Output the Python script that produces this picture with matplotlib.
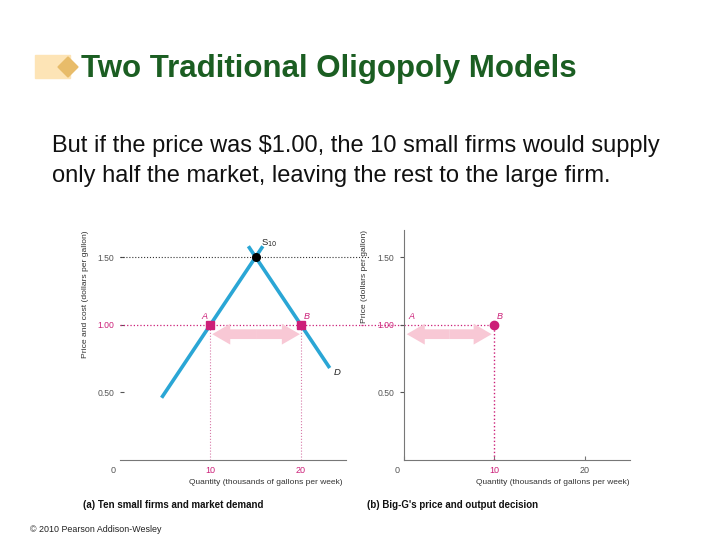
"""
Two Traditional Oligopoly Models - 价格领导模型示意图
"""
import matplotlib
matplotlib.use('Agg')
import matplotlib.pyplot as plt
from matplotlib.patches import Rectangle, Polygon, FancyArrowPatch
from matplotlib.transforms import ScaledTranslation

plt.rcParams['font.family'] = ['Liberation Sans', 'DejaVu Sans']

# 数据
supply_q = [4.6, 15.8]
supply_p = [0.46, 1.58]
demand_q = [14.2, 23.2]
demand_p = [1.58, 0.68]
equil_q, equil_p = 15, 1.50
price = 1.00
small_q = 10        # 10 家小企业供给量 (A)
market_q = 20       # 市场需求量 (B)
bigg_q = 10         # Big-G 产量
arrow_p = 0.93
y_ticks = [0.5, 1.0, 1.5]
y_labels = ['0.50', '1.00', '1.50']
x_ticks = [0, 10, 20]
x_labels = ['0', '10', '20']

CYAN = '#2aa6d5'
MAGENTA = '#cc1f78'
PINK = '#f8c8d5'
GRAY = '#555555'
AXIS = '#777777'

fig = plt.figure(figsize=(7.2, 5.4), dpi=100)
W, H = 720, 540


def fx(px):
    return px / W


def fy(py):
    return 1 - py / H


# 标题装饰
fig.patches.append(Rectangle((fx(35), fy(78)), fx(35), (78 - 55) / H,
                             transform=fig.transFigure, color='#fde4b6', zorder=0))
cx, cy, r = 68, 67, 10
fig.patches.append(Polygon([(fx(cx - r), fy(cy)), (fx(cx), fy(cy - r)),
                            (fx(cx + r), fy(cy)), (fx(cx), fy(cy + r))],
                           closed=True, transform=fig.transFigure,
                           color='#e8bc6a', zorder=1))
fig.text(fx(81), fy(69), 'Two Traditional Oligopoly Models', fontsize=22.5,
         fontweight='bold', color='#1b5e22', va='center', ha='left')
fig.text(fx(52), fy(146), 'But if the price was $1.00, the 10 small firms would supply',
         fontsize=17, va='center', ha='left', color='#111111')
fig.text(fx(52), fy(176), 'only half the market, leaving the rest to the large firm.',
         fontsize=17, va='center', ha='left', color='#111111')
fig.text(fx(30), fy(529), '\u00a9 2010 Pearson Addison-Wesley', fontsize=6.4,
         va='center', ha='left', color='#222222')


def setup_axes(left_px, show_left, xtick_len):
    ax = fig.add_axes([fx(left_px), fy(460), 226 / W, (460 - 230) / H])
    ax.set_xlim(0, 25)
    ax.set_ylim(0, 1.70)
    for s in ['top', 'right']:
        ax.spines[s].set_visible(False)
    ax.spines['left'].set_visible(show_left)
    ax.spines['left'].set_color(AXIS)
    ax.spines['bottom'].set_color(AXIS)
    ax.spines['left'].set_linewidth(0.8)
    ax.spines['bottom'].set_linewidth(0.8)
    ax.tick_params(axis='x', direction='in', length=xtick_len, pad=4, color=AXIS)
    ax.tick_params(axis='y', length=3, pad=4, color=GRAY,
                   direction='out' if show_left else 'in')
    ax.set_yticks(y_ticks)
    ax.set_yticklabels(y_labels, fontsize=6.2, color=GRAY)
    ax.get_yticklabels()[1].set_color(MAGENTA)
    ax.set_xticks(x_ticks)
    ax.set_xticklabels(x_labels, fontsize=6.5, color=GRAY)
    ax.get_xticklabels()[1].set_color(MAGENTA)
    lab0 = ax.get_xticklabels()[0]
    lab0.set_transform(lab0.get_transform() + ScaledTranslation(-0.07, 0, fig.dpi_scale_trans))
    ax.set_facecolor('none')
    return ax


def double_arrow(ax, x0, x1, y):
    mid = (x0 + x1) / 2
    style = 'simple,head_length=1.3,head_width=1.5,tail_width=0.7'
    for end in (x0, x1):
        ax.add_patch(FancyArrowPatch((mid, y), (end, y), arrowstyle=style,
                                     mutation_scale=10, color=PINK, lw=0,
                                     shrinkA=0, shrinkB=0, zorder=2))


# (a) 10 家小企业与市场需求
ax1 = setup_axes(120, False, 0)
ax1.get_xticklabels()[2].set_color(MAGENTA)
ax1.plot([0, 27.5], [equil_p, equil_p], ls=':', color='#333333', lw=0.8, clip_on=False)
ax1.plot([0, 27], [price, price], ls=':', color=MAGENTA, lw=0.9, clip_on=False)
ax1.plot([small_q, small_q], [0, price], ls=':', color='#d77aa8', lw=0.8)
ax1.plot([market_q, market_q], [0, price], ls=':', color='#d77aa8', lw=0.8)
ax1.plot(supply_q, supply_p, color=CYAN, lw=2.6, solid_capstyle='butt', clip_on=False)
ax1.plot(demand_q, demand_p, color=CYAN, lw=2.6, solid_capstyle='butt', clip_on=False)
double_arrow(ax1, small_q + 0.2, market_q - 0.1, arrow_p)
ax1.plot([small_q, market_q], [price, price], 's', color=MAGENTA, ms=5.5, zorder=5)
ax1.plot([equil_q], [equil_p], 'o', color='black', ms=5.5, zorder=5)
ax1.text(small_q - 0.3, price + 0.03, 'A', fontsize=6.5, color=MAGENTA,
         style='italic', ha='right', va='bottom')
ax1.text(market_q + 0.3, price + 0.03, 'B', fontsize=6.5, color=MAGENTA,
         style='italic', ha='left', va='bottom')
ax1.text(supply_q[1] + 0.7, supply_p[1] + 0.02, 'S$_{10}$', fontsize=6.8,
         color='#222222', ha='center', va='center')
ax1.text(demand_q[1] + 0.4, demand_p[1] - 0.03, 'D', fontsize=6.8, style='italic',
         color='#222222', ha='left', va='center')
ax1.text(-35 / 226, 1.0, 'Price and cost (dollars per gallon)', rotation=90,
         fontsize=6.1, color='#333333', ha='center', va='top', transform=ax1.transAxes)
ax1.text(223 / 226, -22 / 230, 'Quantity (thousands of gallons per week)',
         fontsize=6.0, color='#333333', ha='right', va='center', transform=ax1.transAxes)
fig.text(fx(83), fy(505), '(a) Ten small firms and market demand', fontsize=7.0,
         fontweight='bold', va='center', ha='left', color='#111111')

# (b) Big-G 的价格与产量决策
ax2 = setup_axes(404, True, 3)
ax2.plot([-4.8, bigg_q], [price, price], ls=':', color=MAGENTA, lw=0.9, clip_on=False, zorder=1)
ax2.plot([bigg_q, bigg_q], [0, price], ls=':', color=MAGENTA, lw=1.0)
double_arrow(ax2, 0.3, bigg_q - 0.3, arrow_p)
ax2.plot([bigg_q], [price], 'o', color=MAGENTA, ms=6, zorder=5)
ax2.text(0.5, price + 0.03, 'A', fontsize=6.5, color=MAGENTA,
         style='italic', ha='left', va='bottom')
ax2.text(bigg_q + 0.3, price + 0.03, 'B', fontsize=6.5, color=MAGENTA,
         style='italic', ha='left', va='bottom')
ax2.text(-39 / 226, 1.0, 'Price (dollars per gallon)', rotation=90,
         fontsize=6.1, color='#333333', ha='center', va='top', transform=ax2.transAxes)
ax2.text(1.0, -22 / 230, 'Quantity (thousands of gallons per week)',
         fontsize=6.0, color='#333333', ha='right', va='center', transform=ax2.transAxes)
fig.text(fx(367), fy(505), "(b) Big-G's price and output decision", fontsize=7.0,
         fontweight='bold', va='center', ha='left', color='#111111')

fig.savefig('out.png', dpi=100)
plt.close(fig)
